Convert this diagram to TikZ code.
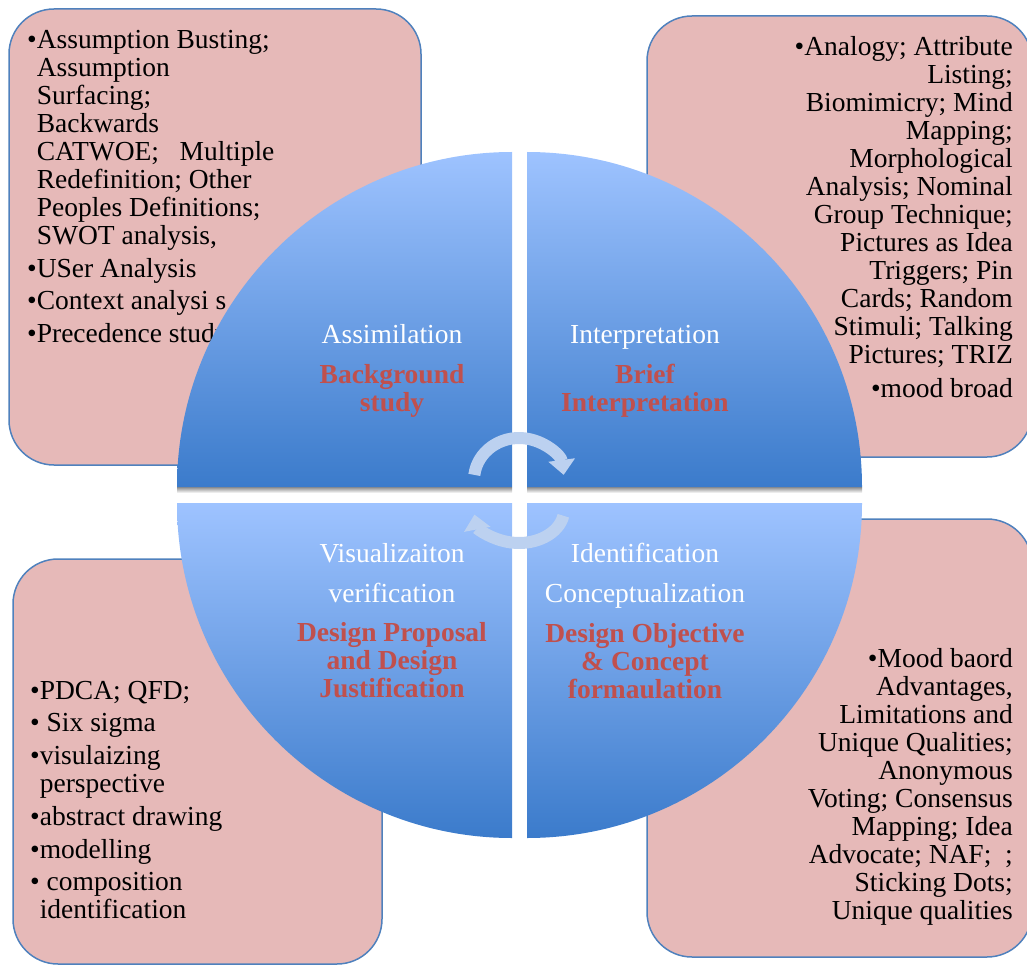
\documentclass[tikz,border=0pt]{standalone}
\usepackage{fontspec}
\setmainfont{Liberation Serif}
\usetikzlibrary{positioning, arrows.meta}
\definecolor{boxpink}{HTML}{E6B9B8}
\definecolor{boxline}{HTML}{4F81BD}
\definecolor{quadlight}{HTML}{9EC3FF}
\definecolor{quaddark}{HTML}{3B7BCB}
\definecolor{titlered}{HTML}{C0504D}
\definecolor{turnblue}{HTML}{BCD1F0}
\tikzstyle{techbox} = [rounded corners=45pt, draw=boxline, line width=1.5pt, fill=boxpink]
\tikzstyle{toollist} = [inner sep=0pt, font=\fontsize{27.5}{28}\selectfont, text=black]
\tikzstyle{quarter} = [top color=quadlight, bottom color=quaddark]
\tikzstyle{quartershadow} = [top color=black!45, bottom color=white]
\tikzstyle{phaselabel} = [inner sep=0pt, align=center, text depth=0pt, font=\fontsize{27.5}{28}\selectfont, text=white]
\tikzstyle{phasetitle} = [inner sep=0pt, align=center, font=\bfseries\fontsize{27.5}{28}\selectfont, text=titlered]
\tikzstyle{turnarrow} = [line width=12pt, draw=turnblue, -{Triangle[width=26pt,length=15pt]}]

\begin{document}
\begin{tikzpicture}[x=1pt, y=-1pt]
    \useasboundingbox (0,0) rectangle (1027,965);
    \clip (0,0) rectangle (1027,965);

    % Tool boxes
    \draw[techbox] (9,9) rectangle (421,465);
    \draw[techbox] (647,16) rectangle (1032,457);
    \draw[techbox] (13,559) rectangle (382,964);
    \draw[techbox] (647,519) rectangle (1032,957);

    \node[toollist, align=left, anchor=north west] (assimtools) at (27,30) {%
        •Assumption Busting;\\
        \phantom{•}Assumption\\
        \phantom{•}Surfacing;\\
        \phantom{•}Backwards\\
        \phantom{•}CATWOE;\ \ \ Multiple\\
        \phantom{•}Redefinition; Other\\
        \phantom{•}Peoples Definitions;\\
        \phantom{•}SWOT analysis,\\[5pt]
        •USer Analysis\\[4pt]
        •Context analysi s\\[5pt]
        •Precedence study};
    \node[toollist, align=right, anchor=north east] (interptools) at (1013,36) {%
        •Analogy; Attribute\\ Listing;\\ Biomimicry; Mind\\ Mapping;\\
        Morphological\\ Analysis; Nominal\\ Group Technique;\\
        Pictures as Idea\\ Triggers; Pin\\ Cards; Random\\
        Stimuli; Talking\\ Pictures; TRIZ\\[6pt]
        •mood broad};
    \node[toollist, align=left, anchor=north west] (vistools) at (30,681) {%
        •PDCA; QFD;\\[4pt]
        • Six sigma\\[5pt]
        •visulaizing\\
        \phantom{•}perspective\\[5pt]
        •abstract drawing\\[5pt]
        •modelling\\[4pt]
        • composition\\
        \phantom{•}identification};
    \node[toollist, align=right, anchor=north east] (identtools) at (1013,648) {%
        •Mood baord\\ Advantages,\\ Limitations and\\ Unique Qualities;\\
        Anonymous\\ Voting; Consensus\\ Mapping; Idea\\
        Advocate; NAF;\ \ ;\\ Sticking Dots;\\ Unique qualities};

    % Circle quarters
    \shade[quartershadow] (177,487) rectangle (512,493);
    \shade[quartershadow] (527,487) rectangle (862,493);
    \shade[quarter] (512,487) -- (177,487) arc (180:270:335) -- cycle;
    \shade[quarter] (527,487) -- (527,152) arc (270:360:335) -- cycle;
    \shade[quarter] (512,503) -- (177,503) arc (180:90:335) -- cycle;
    \shade[quarter] (527,503) -- (862,503) arc (0:90:335) -- cycle;

    % Phase labels
    \node[phaselabel, anchor=south] (assim) at (392,344) {Assimilation};
    \node[phasetitle, below=20pt of assim] (assimtitle) {Background\\study};
    \node[phaselabel, anchor=south] (interp) at (645,344) {Interpretation};
    \node[phasetitle, below=20pt of interp] (interptitle) {Brief\\Interpretation};
    \node[phaselabel, anchor=north] (visual) at (392,543) {Visualizaiton\\[12pt]verification};
    \node[phasetitle, below=20pt of visual] (visualtitle) {Design Proposal\\and Design\\Justification};
    \node[phaselabel, anchor=north] (ident) at (645,543) {Identification\\[12pt]Conceptualization};
    \node[phasetitle, below=20pt of ident] (identtitle) {Design Objective\\\& Concept\\formaulation};

    % Turning arrows
    \draw[turnarrow] (519,480) ++(187:45 and 42) arc[start angle=187, end angle=353, x radius=45, y radius=42];
    \draw[turnarrow] (519,510) ++(10:45 and 33) arc[start angle=10, end angle=172, x radius=45, y radius=33];
\end{tikzpicture}
\end{document}
